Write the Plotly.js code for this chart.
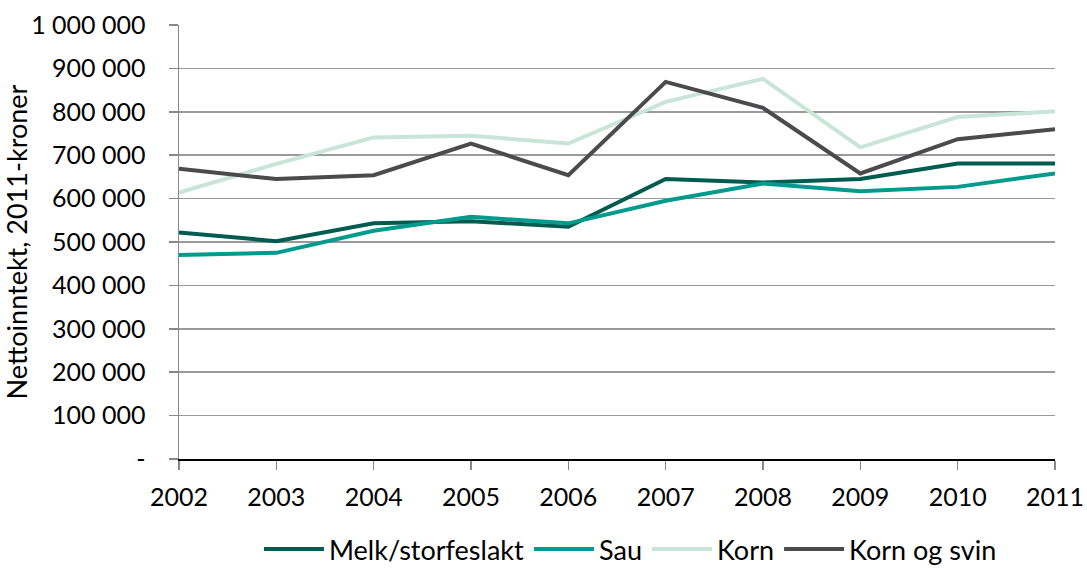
<!DOCTYPE html>
<html>
<head>
<meta charset="utf-8">
<script src="https://cdn.plot.ly/plotly-3.0.1.min.js"></script>
<style>html,body{margin:0;padding:0;background:#fff;}#chart{width:1087px;height:570px;}</style>
</head>
<body>
<div id="chart"></div>
<script>
var years = [2002, 2003, 2004, 2005, 2006, 2007, 2008, 2009, 2010, 2011];
var melk = [522000, 502000, 543000, 548000, 535000, 645000, 637000, 645000, 681000, 681000];
var sau = [470000, 475000, 526000, 558000, 543000, 595000, 635000, 617000, 627000, 658000];
var korn = [614000, 680000, 741000, 745000, 727000, 823000, 876000, 718000, 788000, 801000];
var kornSvin = [669000, 645000, 654000, 727000, 654000, 869000, 809000, 658000, 737000, 760000];
var seriesNames = ["Melk/storfeslakt", "Sau", "Korn", "Korn og svin"];
var yTickVals = [0, 100000, 200000, 300000, 400000, 500000, 600000, 700000, 800000, 900000, 1000000];
var yTickText = ["-", "100 000", "200 000", "300 000", "400 000", "500 000", "600 000", "700 000", "800 000", "900 000", "1 000 000"];

var colors = ["#005C4E", "#009B8C", "#C8E5D7", "#4B4B4D"];
var data = [melk, sau, korn, kornSvin].map(function (vals, i) {
  return {
    x: years, y: vals, name: seriesNames[i], type: "scatter", mode: "lines",
    line: {color: colors[i], width: 4}
  };
});

var font = "Lato, 'Liberation Sans', sans-serif";
var layout = {
  width: 1087, height: 570,
  margin: {l: 179, r: 32, t: 25, b: 111},
  paper_bgcolor: "#fff", plot_bgcolor: "#fff",
  font: {family: font, size: 25, color: "#000"},
  showlegend: true,
  legend: {orientation: "h", x: 0.58, xanchor: "center", xref: "container",
    y: 0.036, yanchor: "middle", yref: "container",
    font: {family: font, size: 27}, traceorder: "normal", itemwidth: 60},
  xaxis: {
    range: [2002, 2011], tickvals: years, ticktext: years.map(String),
    showgrid: false, zeroline: false, showline: true, linecolor: "#000", linewidth: 1.5,
    ticks: "outside", ticklen: 9, tickcolor: "#888", tickwidth: 1.5,
    ticklabelstandoff: 6, tickfont: {family: font, size: 25}
  },
  yaxis: {
    range: [0, 1000000], tickvals: yTickVals, ticktext: yTickText,
    showgrid: true, gridcolor: "#9a9a9a", gridwidth: 1.5, zeroline: false,
    showline: true, linecolor: "#888", linewidth: 1.5,
    ticks: "outside", ticklen: 9, tickcolor: "#888", tickwidth: 1.5,
    ticklabelstandoff: 18, tickfont: {family: font, size: 25},
    title: {text: "Nettoinntekt, 2011-kroner", font: {family: font, size: 27}, standoff: 2}
  }
};
Plotly.newPlot("chart", data, layout, {displayModeBar: false, staticPlot: true});
</script>
</body>
</html>
